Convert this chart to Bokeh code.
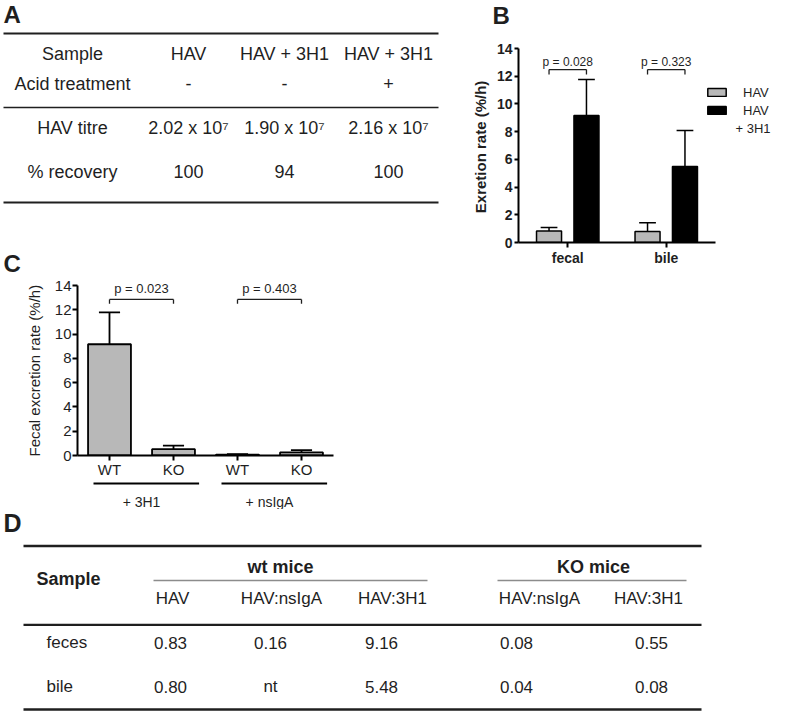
from bokeh.plotting import figure
from bokeh.layouts import column, row
from bokeh.models import (Range1d, FixedTicker, SingleIntervalTicker, ColumnDataSource,
                          Legend, LegendItem, Label)
from bokeh.embed import file_html
from bokeh.resources import INLINE
from bokeh.core.properties import value

FONT = "Liberation Sans"
INK = "#1f1f1f"
BAR_GRAY = "#b8b8b8"
NBSP = "\u00a0"

# ---------------- data ----------------
# Panel A
a_row_labels = ["Sample", "Acid treatment", "HAV titre", "% recovery"]
a_samples = ["HAV", "HAV + 3H1", "HAV + 3H1"]
a_acid = ["-", "-", "+"]
a_titre = ["2.02 x 10\u2077", "1.90 x 10\u2077", "2.16 x 10\u2077"]
a_recovery = ["100", "94", "100"]

# Panel B
b_groups = ["fecal", "bile"]
b_series = ["HAV", "HAV + 3H1"]
b_hav_mean = [0.83, 0.80]
b_hav_sd = [0.25, 0.62]
b_3h1_mean = [9.16, 5.48]
b_3h1_sd = [2.60, 2.60]
b_pvalues = ["p = 0.028", "p = 0.323"]

# Panel C
c_genotype = ["WT", "KO", "WT", "KO"]
c_treatment = ["+ 3H1", "+ 3H1", "+ nsIgA", "+ nsIgA"]
c_mean = [9.16, 0.52, 0.08, 0.25]
c_sd = [2.62, 0.30, 0.03, 0.20]
c_pvalues = ["p = 0.023", "p = 0.403"]

# Panel D
d_groups = ["wt mice", "KO mice"]
d_columns = ["HAV", "HAV:nsIgA", "HAV:3H1", "HAV:nsIgA", "HAV:3H1"]
d_rows = ["feces", "bile"]
d_feces = ["0.83", "0.16", "9.16", "0.08", "0.55"]
d_bile = ["0.80", "nt", "5.48", "0.04", "0.08"]

# ---------------- layout ----------------
PAGE_W, PAGE_H = 771, 711
WL = 448
WB = PAGE_W - WL
A_H = 277
C_H = 204
G_H = 28
D_H = PAGE_H - A_H - C_H - G_H
B_H = 270


def blank(width, height, x_range, y_range):
    f = figure(width=width, height=height, x_range=x_range, y_range=y_range,
               output_backend="svg", toolbar_location=None,
               x_axis_location=None, y_axis_location=None, min_border=0,
               title_location=None, frame_align=False)
    f.grid.visible = False
    f.outline_line_color = None
    return f


def put_text(f, xs, ys, texts, size, align="center", bold=False, color=INK):
    f.text(x=xs, y=ys, text=texts, text_font=value(FONT), text_font_size=size,
           text_font_style="bold" if bold else "normal", text_align=align,
           text_baseline="middle", text_color=color)


def style_axes(f, bold, tick_size, label_size, label_standoff, tick_out):
    f.grid.visible = False
    f.outline_line_color = None
    for ax in f.axis:
        ax.axis_line_width = 2
        ax.axis_line_color = "black"
        ax.major_tick_line_width = 2
        ax.major_tick_line_color = "black"
        ax.major_tick_in = 0
        ax.major_tick_out = tick_out
        ax.minor_tick_line_color = None
        ax.major_label_text_font = FONT
        ax.major_label_text_font_size = tick_size
        ax.major_label_text_font_style = "bold" if bold else "normal"
        ax.major_label_text_color = INK
        ax.axis_label_text_font = FONT
        ax.axis_label_text_font_size = label_size
        ax.axis_label_text_font_style = "bold" if bold else "normal"
        ax.axis_label_text_color = INK
        ax.axis_label_standoff = label_standoff


# ---------------- Panel A (table) ----------------
fa = blank(WL, A_H, Range1d(0, WL), Range1d(A_H, 0))
A_COL_X = [72, 188, 284, 388]
A_ROW_Y = [53, 83, 127, 171]
A_RULE_Y = [33, 107, 202]
A_RULE_W = [2.2, 1.6, 2.2]
fa.segment(x0=[3] * 3, y0=A_RULE_Y, x1=[438] * 3, y1=A_RULE_Y,
           line_color=INK, line_width=A_RULE_W)
a_cells = [a_samples, a_acid, a_titre, a_recovery]
xs, ys, ts = [], [], []
for r, (lab, cells) in enumerate(zip(a_row_labels, a_cells)):
    xs.append(A_COL_X[0]); ys.append(A_ROW_Y[r]); ts.append(lab)
    for c, t in enumerate(cells):
        xs.append(A_COL_X[c + 1]); ys.append(A_ROW_Y[r]); ts.append(t)
put_text(fa, xs, ys, ts, "18px")
put_text(fa, [3, 3], [13.5, 263.3], ["A", "C"], "24px", align="left", bold=True)

# ---------------- Panel B (bar chart) ----------------
B_LEFT, B_TOP, B_BOTTOM = 70, 30, B_H - 242
B_AXIS_PX = 197            # pixel length of the x axis (two groups)
B_Y_PX = 194               # pixel length of the y axis (0..14)
b_px_x = B_AXIS_PX / len(b_groups)
b_px_y = B_Y_PX / 14
b_frame_w = WB - B_LEFT
b_x_end = b_frame_w / b_px_x
b_y_end = 14 + (48 - B_TOP) / b_px_y
fb = figure(width=WB, height=B_H, x_range=Range1d(0, b_x_end), y_range=Range1d(0, b_y_end),
            output_backend="svg", toolbar_location=None, frame_align=False,
            min_border_left=B_LEFT, min_border_right=0,
            min_border_top=B_TOP, min_border_bottom=B_BOTTOM)
fb.title.text = "B"
fb.title.align = "left"
fb.title.offset = -26
fb.title.text_font = FONT
fb.title.text_font_size = "24px"
fb.title.text_font_style = "bold"
fb.title.text_color = INK
fb.title.standoff = 0
fb.title.vertical_align = "top"

style_axes(fb, True, "14px", "15px", 5, 4)
b_pos = [i + 0.5 for i in range(len(b_groups))]
fb.xaxis.ticker = FixedTicker(ticks=b_pos)
fb.xaxis.major_label_overrides = {p: g for p, g in zip(b_pos, b_groups)}
fb.xaxis.bounds = (0, len(b_groups))
fb.xaxis.major_label_standoff = 2
fb.xaxis.major_tick_out = 5
fb.yaxis.ticker = SingleIntervalTicker(interval=2, num_minor_ticks=0)
fb.yaxis.bounds = (0, 14)
fb.yaxis.major_label_standoff = 2
# trailing no-break spaces keep the label centred on the 0..14 axis, not the taller frame
fb.yaxis.axis_label = "Exretion rate (%/h)" + NBSP * 5

B_OFF, B_BAR_W, B_CAP = 0.19, 0.254, 0.17
bsrc = ColumnDataSource(dict(
    x1=[p - B_OFF for p in b_pos], x2=[p + B_OFF for p in b_pos],
    m1=b_hav_mean, m2=b_3h1_mean,
    u1=[m + s for m, s in zip(b_hav_mean, b_hav_sd)],
    u2=[m + s for m, s in zip(b_3h1_mean, b_3h1_sd)],
    c1l=[p - B_OFF - B_CAP / 2 for p in b_pos], c1r=[p - B_OFF + B_CAP / 2 for p in b_pos],
    c2l=[p + B_OFF - B_CAP / 2 for p in b_pos], c2r=[p + B_OFF + B_CAP / 2 for p in b_pos],
))
r1 = fb.vbar(x="x1", top="m1", width=B_BAR_W, source=bsrc, fill_color=BAR_GRAY,
             line_color="black", line_width=1.5)
r2 = fb.vbar(x="x2", top="m2", width=B_BAR_W, source=bsrc, fill_color="black",
             line_color="black", line_width=1.5)
for xc, mc, uc, cl, cr in (("x1", "m1", "u1", "c1l", "c1r"), ("x2", "m2", "u2", "c2l", "c2r")):
    fb.segment(x0=xc, y0=mc, x1=xc, y1=uc, source=bsrc, line_color="black", line_width=1.5)
    fb.segment(x0=cl, y0=uc, x1=cr, y1=uc, source=bsrc, line_color="black", line_width=1.5)

B_BRK_Y, B_BRK_DROP, B_P_Y = 12.48, 0.36, 13.0
bx0, bx1, by0, by1 = [], [], [], []
for p in b_pos:
    xl, xr = p - B_OFF, p + B_OFF
    bx0 += [xl, xl, xr]; bx1 += [xr, xl, xr]
    by0 += [B_BRK_Y, B_BRK_Y, B_BRK_Y]; by1 += [B_BRK_Y, B_BRK_Y - B_BRK_DROP, B_BRK_Y - B_BRK_DROP]
fb.segment(x0=bx0, y0=by0, x1=bx1, y1=by1, line_color=INK, line_width=1.3)
put_text(fb, b_pos, [B_P_Y] * len(b_pos), b_pvalues, "12px")

# legend (swatches through Bokeh's Legend, wrapped second line as a label)
s2_a, s2_b = b_series[1].split(" ", 1)
LEG_X, LEG_TOP, LEG_ROW, LEG_SP = 705, 84.5, 15, 3
legend = Legend(items=[LegendItem(label=b_series[0], renderers=[r1]),
                       LegendItem(label=s2_a, renderers=[r2])],
                location=(LEG_X - 518, 242 - (LEG_TOP + 2 * LEG_ROW + LEG_SP)),
                orientation="vertical",
                glyph_width=23, glyph_height=10, label_standoff=15,
                label_text_font=FONT, label_text_font_size="13px", label_text_color=INK,
                label_height=LEG_ROW, spacing=LEG_SP, padding=0, margin=0,
                border_line_color=None, background_fill_alpha=0)
fb.add_layout(legend)
fb.add_layout(Label(x=(770 - 518) / b_px_x, y=(242 - 128) / b_px_y, text=s2_b,
                    text_align="right", text_baseline="middle", text_font=FONT,
                    text_font_size="13px", text_color=INK))

# ---------------- Panel C (bar chart) ----------------
C_PX_PER_UNIT = 170 / 14
C_TOP_PAD = 8
fc = figure(width=WL, height=C_H, x_range=Range1d(0, len(c_genotype)),
            y_range=Range1d(0, 14 + C_TOP_PAD / C_PX_PER_UNIT),
            output_backend="svg", toolbar_location=None, title_location=None,
            frame_align=False,
            min_border_left=77, min_border_right=WL - 333, min_border_top=0,
            min_border_bottom=C_H - C_TOP_PAD - 170)
style_axes(fc, False, "15px", "15px", 9, 5)
c_pos = [i + 0.5 for i in range(len(c_genotype))]
fc.xaxis.ticker = FixedTicker(ticks=c_pos)
fc.xaxis.major_label_overrides = {p: g for p, g in zip(c_pos, c_genotype)}
fc.xaxis.major_label_standoff = 0
fc.yaxis.ticker = SingleIntervalTicker(interval=2, num_minor_ticks=0)
fc.yaxis.bounds = (0, 14)
fc.yaxis.major_label_standoff = 1
fc.yaxis.axis_label = "Fecal excretion rate (%/h)" + NBSP * 2

C_BAR_W, C_CAP = 0.67, 0.33
csrc = ColumnDataSource(dict(
    x=c_pos, m=c_mean, u=[m + s for m, s in zip(c_mean, c_sd)],
    cl=[p - C_CAP / 2 for p in c_pos], cr=[p + C_CAP / 2 for p in c_pos]))
fc.vbar(x="x", top="m", width=C_BAR_W, source=csrc, fill_color=BAR_GRAY,
        line_color="black", line_width=1.8)
fc.segment(x0="x", y0="m", x1="x", y1="u", source=csrc, line_color="black", line_width=1.8)
fc.segment(x0="cl", y0="u", x1="cr", y1="u", source=csrc, line_color="black", line_width=1.8)

C_BRK_Y, C_BRK_DROP, C_P_Y = 12.85, 0.35, 13.75
pairs = [(0, 1), (2, 3)]
cx0, cx1, cy0, cy1, px = [], [], [], [], []
for a, b in pairs:
    xl, xr = c_pos[a], c_pos[b]
    cx0 += [xl, xl, xr]; cx1 += [xr, xl, xr]
    cy0 += [C_BRK_Y] * 3; cy1 += [C_BRK_Y, C_BRK_Y - C_BRK_DROP, C_BRK_Y - C_BRK_DROP]
    px.append((xl + xr) / 2)
fc.segment(x0=cx0, y0=cy0, x1=cx1, y1=cy1, line_color=INK, line_width=1.3)
put_text(fc, px, [C_P_Y] * len(px), c_pvalues, "13px")

# group underlines and labels below panel C (shares C's x scale)
fg = blank(WL, G_H, fc.x_range, Range1d(G_H, 0))
fg.min_border_left = 77
fg.min_border_right = WL - 333
groups = []
for i, t in enumerate(c_treatment):
    if not groups or groups[-1][0] != t:
        groups.append([t, i, i])
    else:
        groups[-1][2] = i
G_START, G_END = 0.25, 0.1
fg.segment(x0=[g[1] + G_START for g in groups], x1=[g[2] + 1 - G_END for g in groups],
           y0=[2] * len(groups), y1=[2] * len(groups), line_color="black", line_width=2)
put_text(fg, [(g[1] + g[2] + 1) / 2 for g in groups], [20] * len(groups),
         [g[0] for g in groups], "14px")

# ---------------- Panel D (table) ----------------
# table drawn in reference pixel units, squeezed slightly to fit the page
D_SRC_TOP, D_SRC_BOT = 525, 723
D_DST_TOP, D_DST_BOT = 514 - (A_H + C_H + G_H), 709 - (A_H + C_H + G_H)
d_scale = (D_DST_BOT - D_DST_TOP) / (D_SRC_BOT - D_SRC_TOP)
d_y_top = D_SRC_TOP - D_DST_TOP / d_scale
d_y_bot = D_SRC_TOP + (D_H - D_DST_TOP) / d_scale
fd = blank(PAGE_W, D_H, Range1d(0, PAGE_W), Range1d(d_y_bot, d_y_top))
D_RULE_Y = [557, 637, 723]
D_RULE_W = [2.6, 2.2, 2.6]
fd.segment(x0=[23] * 3, y0=D_RULE_Y, x1=[701] * 3, y1=D_RULE_Y,
           line_color=INK, line_width=D_RULE_W)
D_GROUP_SPAN = [(153, 427), (497, 686)]
D_GROUP_X = [280, 593]
fd.segment(x0=[s[0] for s in D_GROUP_SPAN], x1=[s[1] for s in D_GROUP_SPAN],
           y0=[592] * 2, y1=[592] * 2, line_color="#8c8c8c", line_width=1.6)
put_text(fd, D_GROUP_X, [578] * 2, d_groups, "18px", bold=True)
put_text(fd, [68], [590], ["Sample"], "18px", bold=True)
D_HEAD_X = [172, 281, 392, 539, 648]
put_text(fd, D_HEAD_X, [610] * len(d_columns), d_columns, "17px")
D_VAL_X = [170, 270, 381, 516, 651]
D_ROW_Y = [655, 700]
put_text(fd, [46] * len(d_rows), D_ROW_Y, d_rows, "17px", align="left")
for yv, vals in zip(D_ROW_Y, [d_feces, d_bile]):
    put_text(fd, D_VAL_X, [yv] * len(vals), vals, "17px")
put_text(fd, [3], [534], ["D"], "25px", align="left", bold=True)

# ---------------- assemble ----------------
left = column(fa, fc, fg)
top = row(left, fb)
page = column(top, fd)

open("out.html", "w").write(file_html(page, INLINE))
